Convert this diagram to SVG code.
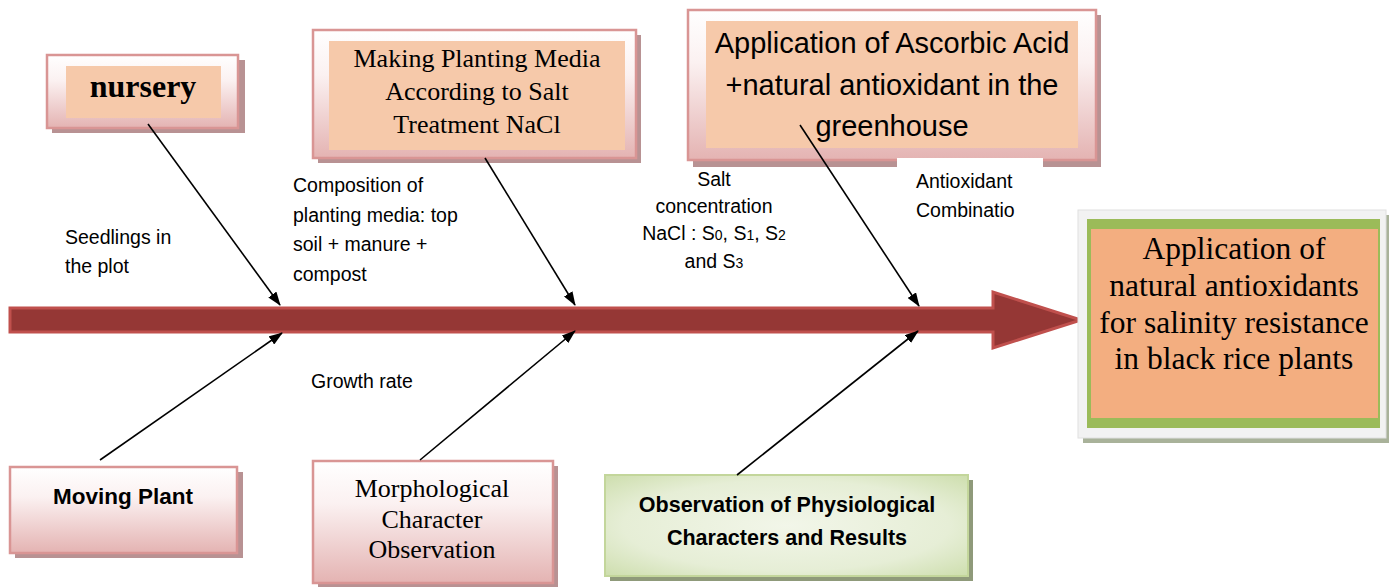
<svg xmlns="http://www.w3.org/2000/svg" width="1394" height="587" viewBox="0 0 1394 587">
<defs>
<linearGradient id="pinkG" x1="0" y1="0" x2="0" y2="1">
<stop offset="0" stop-color="#ffffff"/><stop offset="0.35" stop-color="#fbf1f1"/><stop offset="1" stop-color="#e4b3b2"/>
</linearGradient>
<radialGradient id="greenG" cx="0.5" cy="0.5" r="0.75">
<stop offset="0" stop-color="#f2f6e9"/><stop offset="0.6" stop-color="#e6eed6"/><stop offset="1" stop-color="#c9dba6"/>
</radialGradient>
<marker id="ah" viewBox="0 0 14 10" refX="13" refY="5" markerWidth="14" markerHeight="10" markerUnits="userSpaceOnUse" orient="auto">
<path d="M0,0 L14,5 L0,10 z" fill="#000"/>
</marker>
<style>
.pbox{fill:url(#pinkG);stroke:#d99594;stroke-width:2.5}
.shadow{fill:#b89293}
.peach{fill:#f6c9aa}
.lbl{font-family:"Liberation Sans",Arial,sans-serif;font-size:19.5px;fill:#000}
.serif{font-family:"Liberation Serif","Times New Roman",serif;fill:#000}
.sans{font-family:"Liberation Sans",Arial,sans-serif;fill:#000}
.conn{stroke:#000;stroke-width:1.6;fill:none;marker-end:url(#ah)}
</style>
</defs>
<rect width="1394" height="587" fill="#ffffff"/>

<!-- main spine -->
<g id="spine">
<path d="M10,308 L993,308 L993,292 L1081,320 L993,348 L993,332 L10,332 z" fill="#953735" stroke="#c0504d" stroke-width="3" stroke-linejoin="miter"/>
</g>

<g id="nursery">
<rect class="shadow" x="52" y="60" width="193" height="73"/>
<rect class="pbox" x="47" y="55" width="191" height="73"/>
<rect class="peach" x="66" y="66" width="155" height="52"/>
<text class="serif" x="143" y="97" font-size="32" font-weight="bold" text-anchor="middle">nursery</text>
</g>

<g id="making">
<rect class="shadow" x="318" y="35" width="323" height="128"/>
<rect class="pbox" x="313" y="30" width="323" height="128"/>
<rect class="peach" x="329" y="41" width="296" height="109"/>
<text class="serif" font-size="26" text-anchor="middle"><tspan x="477" y="67">Making Planting Media</tspan><tspan x="477" y="100">According to Salt</tspan><tspan x="477" y="133">Treatment NaCl</tspan></text>
</g>

<g id="ascorbic">
<rect class="shadow" x="693" y="15" width="408" height="152"/>
<rect class="pbox" x="688" y="10" width="408" height="150"/>
<rect class="peach" x="706" y="21" width="372" height="127"/>
<text class="sans" font-size="29" text-anchor="middle"><tspan x="892" y="53">Application of Ascorbic Acid</tspan><tspan x="892" y="95">+natural antioxidant in the</tspan><tspan x="892" y="136">greenhouse</tspan></text>
</g>

<g id="result">
<rect x="1083" y="215" width="306" height="228" fill="#a9b29a"/>
<rect x="1078" y="210" width="308" height="228" fill="#f2f2f2" stroke="#e0e0e0" stroke-width="1"/>
<rect x="1087" y="219" width="293" height="209" fill="#9bbb59"/>
<rect x="1091" y="229" width="287" height="189" fill="#f3ae80"/>
<text class="serif" font-size="31.5" text-anchor="middle"><tspan x="1234" y="259">Application of</tspan><tspan x="1234" y="296">natural antioxidants</tspan><tspan x="1234" y="333">for salinity resistance</tspan><tspan x="1234" y="369">in black rice plants</tspan></text>
</g>

<g id="moving">
<rect class="shadow" x="15" y="472" width="228" height="86"/>
<rect class="pbox" x="10" y="467" width="227" height="86"/>
<text class="sans" x="123" y="504" font-size="22.5" font-weight="bold" text-anchor="middle">Moving Plant</text>
</g>

<g id="morph">
<rect class="shadow" x="318" y="466" width="240" height="121"/>
<rect class="pbox" x="313" y="461" width="240" height="122"/>
<text class="serif" font-size="26" text-anchor="middle"><tspan x="432" y="497">Morphological</tspan><tspan x="432" y="528">Character</tspan><tspan x="432" y="558">Observation</tspan></text>
</g>

<g id="physio">
<rect x="610" y="480" width="363" height="101" fill="#8f9a7a"/>
<rect x="605" y="475" width="363" height="101" fill="url(#greenG)" stroke="#c3d69b" stroke-width="2"/>
<text class="sans" font-size="21.5" font-weight="bold" text-anchor="middle"><tspan x="787" y="512">Observation of Physiological</tspan><tspan x="787" y="545">Characters and Results</tspan></text>
</g>

<g id="labels">
<text class="lbl"><tspan x="65" y="244">Seedlings in</tspan><tspan x="65" y="273">the plot</tspan></text>
<text class="lbl"><tspan x="293" y="192">Composition of</tspan><tspan x="293" y="222">planting media: top</tspan><tspan x="293" y="251">soil + manure +</tspan><tspan x="293" y="281">compost</tspan></text>
<text class="lbl" text-anchor="middle"><tspan x="714" y="186">Salt</tspan><tspan x="714" y="213">concentration</tspan><tspan x="714" y="240">NaCl : S<tspan font-size="14">0</tspan>, S<tspan font-size="14">1</tspan>, S<tspan font-size="14">2</tspan></tspan><tspan x="714" y="268">and S<tspan font-size="14">3</tspan></tspan></text>
<rect x="897" y="158" width="146" height="70" fill="#fff"/>
<text class="lbl"><tspan x="916" y="188">Antioxidant</tspan><tspan x="916" y="217">Combinatio</tspan></text>
<text class="lbl" x="311" y="388">Growth rate</text>
</g>

<g id="connectors">
<line class="conn" x1="148" y1="124" x2="280" y2="305"/>
<line class="conn" x1="485" y1="158" x2="575" y2="305"/>
<line class="conn" x1="800" y1="125" x2="919" y2="306"/>
<line class="conn" x1="100" y1="460" x2="282" y2="333"/>
<line class="conn" x1="420" y1="460" x2="575" y2="331"/>
<line class="conn" x1="737" y1="475" x2="918" y2="331"/>
</g>
</svg>
